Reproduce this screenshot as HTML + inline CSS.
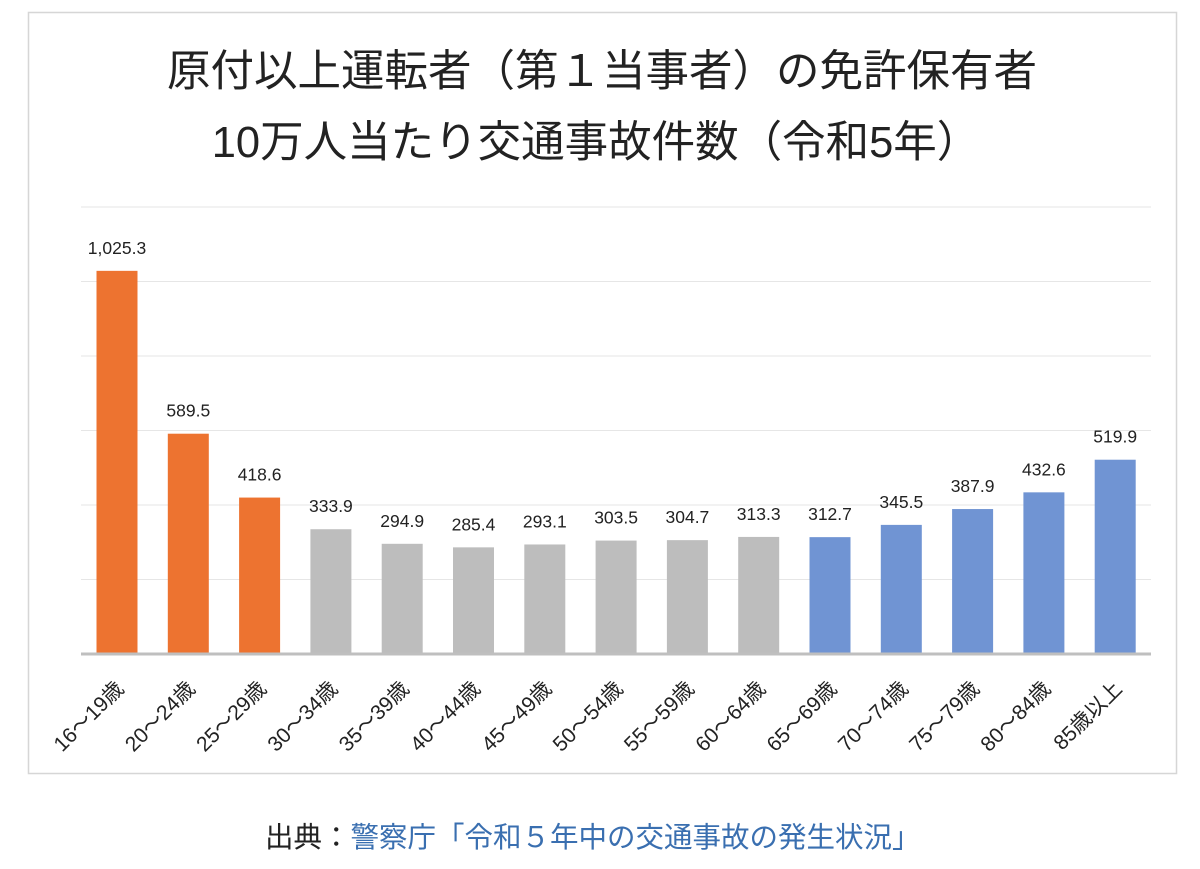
<!DOCTYPE html>
<html><head><meta charset="utf-8"><style>
body{margin:0;background:#fff;}
svg{display:block;font-family:"Liberation Sans","Noto Sans CJK JP",sans-serif;}
</style></head><body>
<svg width="1200" height="869" viewBox="0 0 1200 869">
<rect x="28.5" y="12.5" width="1148" height="761" fill="#fff" stroke="#d6d6d6" stroke-width="1.5"/>
<text x="602" y="86" font-size="43.5" text-anchor="middle" fill="#222">原付以上運転者（第１当事者）の免許保有者</text>
<text x="596" y="157" font-size="43.5" text-anchor="middle" fill="#222">10万人当たり交通事故件数（令和5年）</text>
<g stroke="#e6e6e6" stroke-width="1">
<line x1="81" x2="1151" y1="207" y2="207"/><line x1="81" x2="1151" y1="281.5" y2="281.5"/>
<line x1="81" x2="1151" y1="356" y2="356"/><line x1="81" x2="1151" y1="430.5" y2="430.5"/>
<line x1="81" x2="1151" y1="505" y2="505"/><line x1="81" x2="1151" y1="579.5" y2="579.5"/>
</g>
<g id="bars"></g>
<line x1="81" x2="1151" y1="654" y2="654" stroke="#bfbfbf" stroke-width="3"/>
<g id="labels" font-size="17.5" fill="#222" text-anchor="middle"></g>
<g id="cats" font-size="21" fill="#222" text-anchor="end"></g>
<text x="265" y="847" font-size="28.5" fill="#222">出典：<tspan fill="#3a6fb0">警察庁「令和５年中の交通事故の発生状況」</tspan></text>
<script>
var v=[1025.3,589.5,418.6,333.9,294.9,285.4,293.1,303.5,304.7,313.3,312.7,345.5,387.9,432.6,519.9];
var c=["16～19歳","20～24歳","25～29歳","30～34歳","35～39歳","40～44歳","45～49歳","50～54歳","55～59歳","60～64歳","65～69歳","70～74歳","75～79歳","80～84歳","85歳以上"];
var ns="http://www.w3.org/2000/svg",b=document.getElementById("bars"),l=document.getElementById("labels"),k=document.getElementById("cats");
for(var i=0;i<15;i++){var cx=117+i*71.3,h=v[i]*0.3737,y=654-h;
var col=i<3?"#ed7330":(i<10?"#bdbdbd":"#7094d3");
var r=document.createElementNS(ns,"rect");r.setAttribute("x",cx-20.5);r.setAttribute("y",y);r.setAttribute("width",41);r.setAttribute("height",h);r.setAttribute("fill",col);b.appendChild(r);
var t=document.createElementNS(ns,"text");t.setAttribute("x",cx);t.setAttribute("y",y-17);t.textContent=v[i].toLocaleString("en-US",{minimumFractionDigits:1});l.appendChild(t);
var s=document.createElementNS(ns,"text");s.setAttribute("transform","translate("+(cx+8)+",690) rotate(-45)");s.textContent=c[i];k.appendChild(s);}
</script>
</svg>
</body></html>
